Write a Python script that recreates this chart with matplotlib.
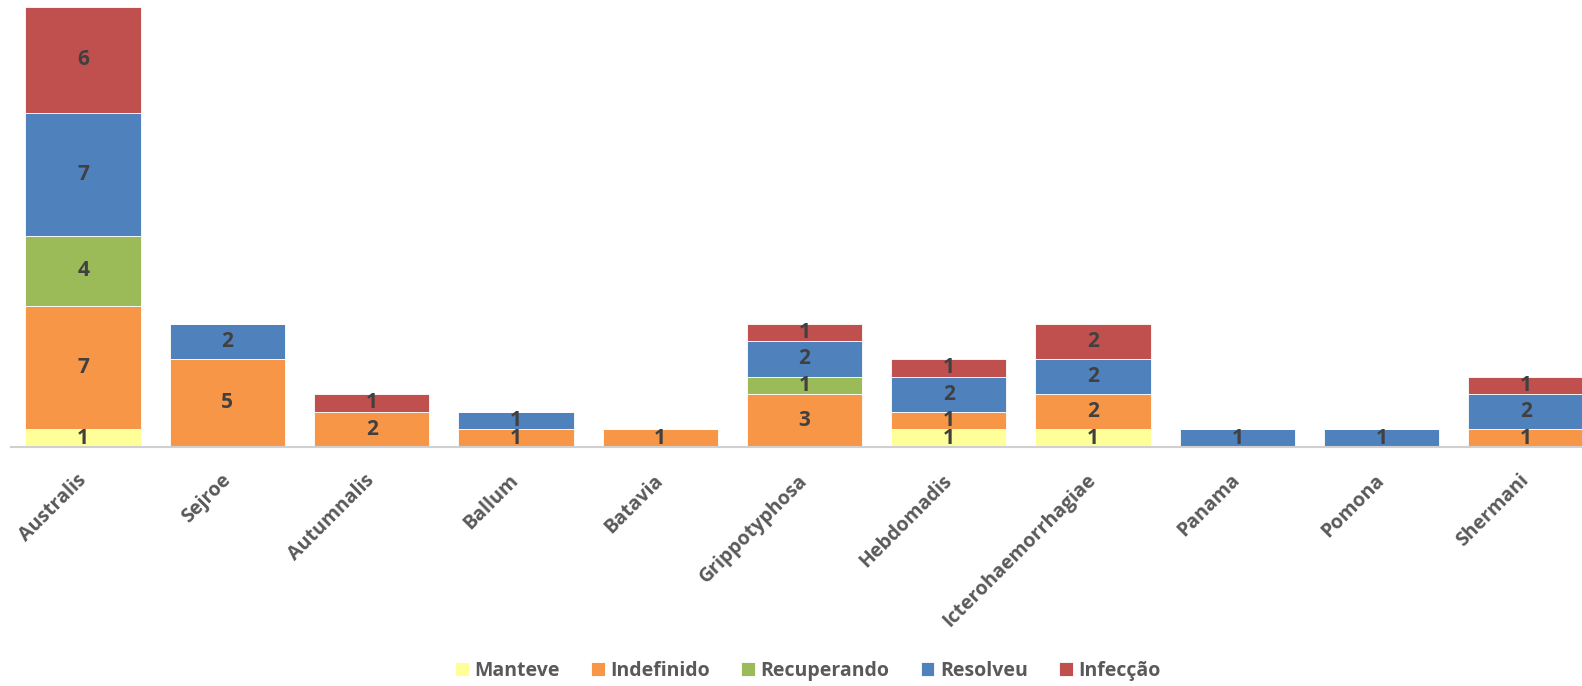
import numpy as np
import matplotlib.pyplot as plt

plt.rcParams['font.family'] = ['Open Sans', 'DejaVu Sans']

sorovares = ['Australis', 'Sejroe', 'Autumnalis', 'Ballum', 'Batavia', 'Grippotyphosa',
             'Hebdomadis', 'Icterohaemorrhagiae', 'Panama', 'Pomona', 'Shermani']
manteve = [1, 0, 0, 0, 0, 0, 1, 1, 0, 0, 0]
indefinido = [7, 5, 2, 1, 1, 3, 1, 2, 0, 0, 1]
recuperando = [4, 0, 0, 0, 0, 1, 0, 0, 0, 0, 0]
resolveu = [7, 2, 0, 1, 0, 2, 2, 2, 1, 1, 2]
infeccao = [6, 0, 1, 0, 0, 1, 1, 2, 0, 0, 1]

series = [('Manteve', manteve, '#FFFF99'),
          ('Indefinido', indefinido, '#F79646'),
          ('Recuperando', recuperando, '#9BBB59'),
          ('Resolveu', resolveu, '#4F81BD'),
          ('Infecção', infeccao, '#C0504D')]

fig = plt.figure(figsize=(15.82, 6.86), dpi=100)
ax = fig.add_axes([11 / 1582, 1 - 447 / 686, 1587 / 1582, 440 / 686])

x = np.arange(len(sorovares))
base = np.zeros(len(sorovares))
for nome, vals, cor in series:
    vals = np.array(vals, dtype=float)
    bars = ax.bar(x, vals, 0.8, bottom=base, color=cor, edgecolor='white',
                  linewidth=0.6, label=nome)
    for b, v, y0 in zip(bars, vals, base):
        if v > 0:
            ax.text(b.get_x() + b.get_width() / 2, y0 + v / 2, str(int(v)),
                    ha='center', va='center', fontsize=15, fontweight='bold',
                    color='#404040')
    base += vals

ax.set_xlim(-0.5, 10.5)
ax.set_ylim(0, 25)
ax.set_yticks([])
for s in ['top', 'right', 'left']:
    ax.spines[s].set_visible(False)
ax.spines['bottom'].set_color('#D0D0D0')
ax.spines['bottom'].set_linewidth(1.5)
ax.set_xticks(x)
ax.set_xticklabels(sorovares, rotation=45, ha='right', va='center',
                   rotation_mode='anchor', fontsize=14, fontweight='bold',
                   color='#595959')
ax.tick_params(axis='x', length=0, pad=22)

fig.legend(loc='center', bbox_to_anchor=(808 / 1582, 1 - 671 / 686), ncol=5,
           frameon=False, handlelength=0.7, handleheight=0.7, handletextpad=0.3,
           columnspacing=1.6, prop={'size': 14, 'weight': 'bold'},
           labelcolor='#595959')

fig.savefig('out.png', dpi=100)
